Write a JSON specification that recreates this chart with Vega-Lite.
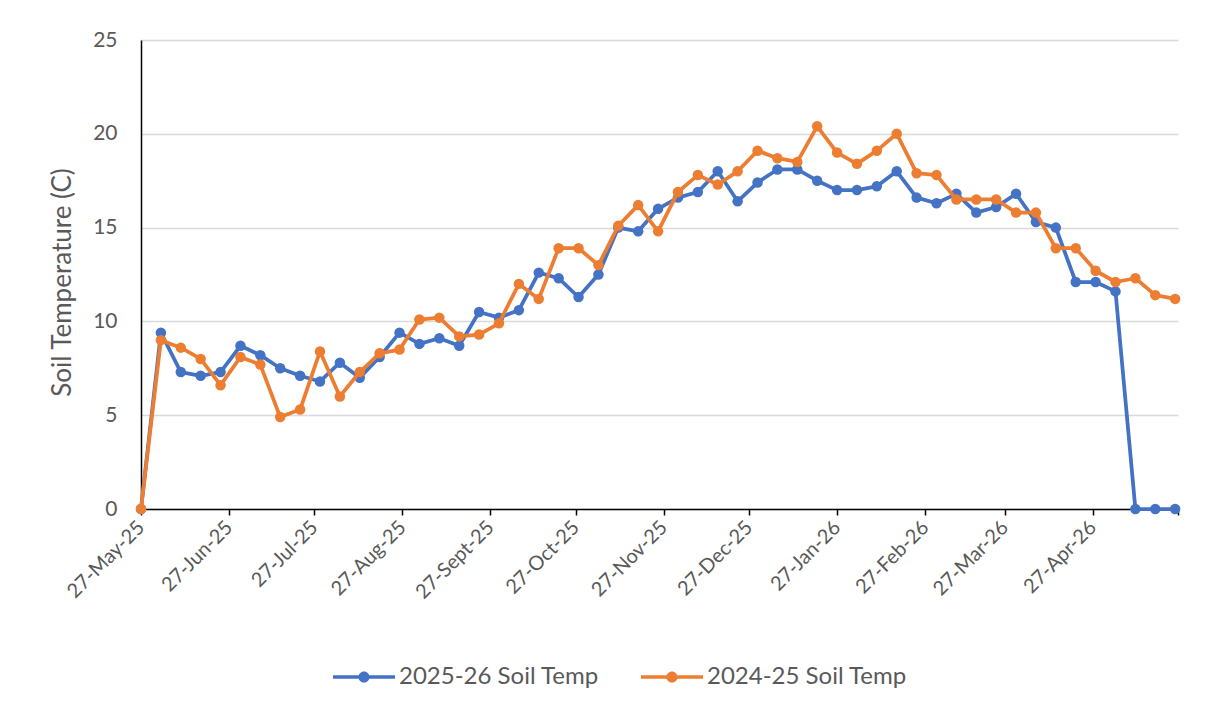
{
  "$schema": "https://vega.github.io/schema/vega-lite/v6.json",
  "width": 1037,
  "height": 469,
  "autosize": {"type": "none"},
  "padding": {"left": 141, "top": 40, "right": 48, "bottom": 213},
  "background": "white",
  "config": {
    "view": {"stroke": null},
    "font": "Lato",
    "axisX": {
      "domainColor": "#000000", "domainWidth": 1.5,
      "tickColor": "#000000", "tickWidth": 1.5, "tickSize": 6,
      "labelAngle": -45, "labelAlign": "right", "labelBaseline": "middle",
      "labelFontSize": 20, "labelColor": "#595959", "labelPadding": 9,
      "grid": false, "labelOverlap": false, "labelBound": false, "labelFlush": false
    },
    "axisY": {
      "domainColor": "#000000", "domainWidth": 1.5,
      "ticks": false,
      "gridColor": "#d9d9d9", "gridWidth": 1.5,
      "labelFontSize": 21, "labelColor": "#595959", "labelPadding": 24,
      "titleFontSize": 26, "titleColor": "#595959", "titleFontWeight": "normal",
      "titleX": -79, "titleY": 242, "titleAngle": -90,
      "titleAlign": "center", "titleBaseline": "middle"
    }
  },
  "data": {
    "values": [
      {"date": "2025-05-27", "s2526": 0, "s2425": 0},
      {"date": "2025-06-03", "s2526": 9.4, "s2425": 9.0},
      {"date": "2025-06-10", "s2526": 7.3, "s2425": 8.6},
      {"date": "2025-06-17", "s2526": 7.1, "s2425": 8.0},
      {"date": "2025-06-24", "s2526": 7.3, "s2425": 6.6},
      {"date": "2025-07-01", "s2526": 8.7, "s2425": 8.1},
      {"date": "2025-07-08", "s2526": 8.2, "s2425": 7.7},
      {"date": "2025-07-15", "s2526": 7.5, "s2425": 4.9},
      {"date": "2025-07-22", "s2526": 7.1, "s2425": 5.3},
      {"date": "2025-07-29", "s2526": 6.8, "s2425": 8.4},
      {"date": "2025-08-05", "s2526": 7.8, "s2425": 6.0},
      {"date": "2025-08-12", "s2526": 7.0, "s2425": 7.3},
      {"date": "2025-08-19", "s2526": 8.1, "s2425": 8.3},
      {"date": "2025-08-26", "s2526": 9.4, "s2425": 8.5},
      {"date": "2025-09-02", "s2526": 8.8, "s2425": 10.1},
      {"date": "2025-09-09", "s2526": 9.1, "s2425": 10.2},
      {"date": "2025-09-16", "s2526": 8.7, "s2425": 9.2},
      {"date": "2025-09-23", "s2526": 10.5, "s2425": 9.3},
      {"date": "2025-09-30", "s2526": 10.2, "s2425": 9.9},
      {"date": "2025-10-07", "s2526": 10.6, "s2425": 12.0},
      {"date": "2025-10-14", "s2526": 12.6, "s2425": 11.2},
      {"date": "2025-10-21", "s2526": 12.3, "s2425": 13.9},
      {"date": "2025-10-28", "s2526": 11.3, "s2425": 13.9},
      {"date": "2025-11-04", "s2526": 12.5, "s2425": 13.0},
      {"date": "2025-11-11", "s2526": 15.0, "s2425": 15.1},
      {"date": "2025-11-18", "s2526": 14.8, "s2425": 16.2},
      {"date": "2025-11-25", "s2526": 16.0, "s2425": 14.8},
      {"date": "2025-12-02", "s2526": 16.6, "s2425": 16.9},
      {"date": "2025-12-09", "s2526": 16.9, "s2425": 17.8},
      {"date": "2025-12-16", "s2526": 18.0, "s2425": 17.3},
      {"date": "2025-12-23", "s2526": 16.4, "s2425": 18.0},
      {"date": "2025-12-30", "s2526": 17.4, "s2425": 19.1},
      {"date": "2026-01-06", "s2526": 18.1, "s2425": 18.7},
      {"date": "2026-01-13", "s2526": 18.1, "s2425": 18.5},
      {"date": "2026-01-20", "s2526": 17.5, "s2425": 20.4},
      {"date": "2026-01-27", "s2526": 17.0, "s2425": 19.0},
      {"date": "2026-02-03", "s2526": 17.0, "s2425": 18.4},
      {"date": "2026-02-10", "s2526": 17.2, "s2425": 19.1},
      {"date": "2026-02-17", "s2526": 18.0, "s2425": 20.0},
      {"date": "2026-02-24", "s2526": 16.6, "s2425": 17.9},
      {"date": "2026-03-03", "s2526": 16.3, "s2425": 17.8},
      {"date": "2026-03-10", "s2526": 16.8, "s2425": 16.5},
      {"date": "2026-03-17", "s2526": 15.8, "s2425": 16.5},
      {"date": "2026-03-24", "s2526": 16.1, "s2425": 16.5},
      {"date": "2026-03-31", "s2526": 16.8, "s2425": 15.8},
      {"date": "2026-04-07", "s2526": 15.3, "s2425": 15.8},
      {"date": "2026-04-14", "s2526": 15.0, "s2425": 13.9},
      {"date": "2026-04-21", "s2526": 12.1, "s2425": 13.9},
      {"date": "2026-04-28", "s2526": 12.1, "s2425": 12.7},
      {"date": "2026-05-05", "s2526": 11.6, "s2425": 12.1},
      {"date": "2026-05-12", "s2526": 0, "s2425": 12.3},
      {"date": "2026-05-19", "s2526": 0, "s2425": 11.4},
      {"date": "2026-05-26", "s2526": 0, "s2425": 11.2}
    ]
  },
  "encoding": {
    "x": {
      "field": "date", "type": "temporal", "title": null,
      "scale": {
        "type": "utc",
        "domain": [
          {"year": 2025, "month": 5, "date": 27, "utc": true},
          {"year": 2026, "month": 5, "date": 27, "utc": true}
        ]
      },
      "axis": {
        "values": [
          {"year": 2025, "month": 5, "date": 27, "utc": true},
          {"year": 2025, "month": 6, "date": 27, "utc": true},
          {"year": 2025, "month": 7, "date": 27, "utc": true},
          {"year": 2025, "month": 8, "date": 27, "utc": true},
          {"year": 2025, "month": 9, "date": 27, "utc": true},
          {"year": 2025, "month": 10, "date": 27, "utc": true},
          {"year": 2025, "month": 11, "date": 27, "utc": true},
          {"year": 2025, "month": 12, "date": 27, "utc": true},
          {"year": 2026, "month": 1, "date": 27, "utc": true},
          {"year": 2026, "month": 2, "date": 27, "utc": true},
          {"year": 2026, "month": 3, "date": 27, "utc": true},
          {"year": 2026, "month": 4, "date": 27, "utc": true},
          {"year": 2026, "month": 5, "date": 27, "utc": true}
        ],
        "labelExpr": "datum.value > utc(2026, 4, 10) ? '' : replace(utcFormat(datum.value, '%d-%b-%y'), 'Sep-', 'Sept-')"
      }
    }
  },
  "layer": [
    {
      "mark": {"type": "line", "strokeWidth": 3.75, "strokeJoin": "round", "point": {"filled": true, "size": 110}},
      "encoding": {
        "y": {"field": "s2526", "type": "quantitative", "title": "Soil Temperature (C)",
              "scale": {"domain": [0, 25], "nice": false},
              "axis": {"values": [0, 5, 10, 15, 20, 25]}},
        "color": {
          "datum": "2025-26 Soil Temp",
          "scale": {"domain": ["2025-26 Soil Temp", "2024-25 Soil Temp"], "range": ["#4472C4", "#ED7D31"]},
          "legend": {
            "orient": "none", "legendX": 192, "legendY": 606, "direction": "horizontal",
            "title": null, "labelFontSize": 24, "labelColor": "#595959", "labelOffset": 4,
            "labelLimit": 0, "columnPadding": 42,
            "symbolType": "M-1,-0.06H1V0.06H-1Z M-0.18,0A0.18,0.18 0 1,1 0.18,0A0.18,0.18 0 1,1 -0.18,0Z",
            "symbolSize": 3844, "symbolStrokeWidth": 0,
            "encode": {"symbols": {"update": {"fill": {"scale": "color", "field": "value"}, "stroke": {"value": "transparent"}}}}
          }
        }
      }
    },
    {
      "mark": {"type": "line", "strokeWidth": 3.75, "strokeJoin": "round", "point": {"filled": true, "size": 110}},
      "encoding": {
        "y": {"field": "s2425", "type": "quantitative", "title": "Soil Temperature (C)",
              "scale": {"domain": [0, 25], "nice": false},
              "axis": {"values": [0, 5, 10, 15, 20, 25]}},
        "color": {"datum": "2024-25 Soil Temp"}
      }
    }
  ]
}
